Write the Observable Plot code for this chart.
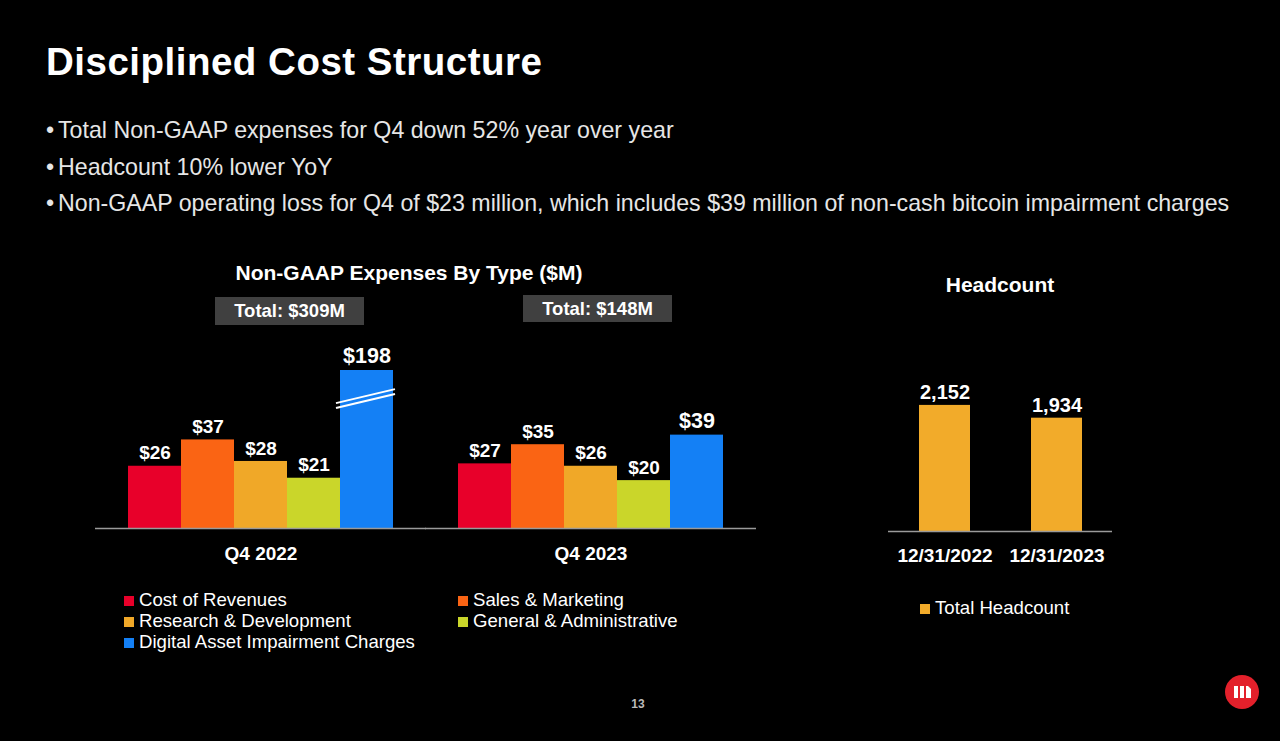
<!DOCTYPE html>
<html>
<head>
<meta charset="utf-8">
<script src="https://cdn.jsdelivr.net/npm/d3@7"></script>
<script src="https://cdn.jsdelivr.net/npm/@observablehq/plot@0.6"></script>
<style>
  html, body { margin: 0; padding: 0; background: #000; }
  body { width: 1280px; height: 741px; position: relative; overflow: hidden;
         font-family: "Liberation Sans", Arial, Helvetica, sans-serif; color: #fff; }
  .abs { position: absolute; }
  .title { left: 46px; top: 40px; font-size: 38.5px; letter-spacing: 0.5px; font-weight: bold; line-height: 44px; white-space: nowrap; }
  .bullet { left: 46px; font-size: 23.2px; line-height: 36px; color: #e6e6e6; white-space: nowrap; }
  .bullet .dot { display: inline-block; width: 12px; }
  .ctitle { font-size: 21px; font-weight: bold; line-height: 24px; text-align: center; white-space: nowrap; }
  .total { background: #404040; font-size: 18.5px; font-weight: bold; text-align: center; color: #fff; }
  .leg { font-size: 18.6px; line-height: 21px; white-space: nowrap; color: #fff; }
  .leg .sw { display: inline-block; width: 10px; height: 10px; margin-right: 5px; vertical-align: 0px; }
  .pnum { left: 618px; width: 40px; top: 697px; text-align: center; font-size: 12px; font-weight: bold; color: #bbb; }
</style>
</head>
<body>
<script>
// ---------- data ----------
const titleText = "Disciplined Cost Structure";
const bullets = [
  "Total Non-GAAP expenses for Q4 down 52% year over year",
  "Headcount 10% lower YoY",
  "Non-GAAP operating loss for Q4 of $23 million, which includes $39 million of non-cash bitcoin impairment charges"
];
const expenseTitle = "Non-GAAP Expenses By Type ($M)";
const quarters = ["Q4 2022", "Q4 2023"];
const quarterTotals = ["Total: $309M", "Total: $148M"];
const types = ["Cost of Revenues", "Sales & Marketing", "Research & Development", "General & Administrative", "Digital Asset Impairment Charges"];
const typeColors = ["#e8002a", "#fa6414", "#f0a828", "#cad62a", "#1480f5"];
const values2022 = [26, 37, 28, 21, 198];
const values2023 = [27, 35, 26, 20, 39];
const axisCap = 66;              // broken axis: bars above this are clipped
const breakLevels = [55.3, 53.3]; // where the break marks sit on the clipped bar

const headTitle = "Headcount";
const headDates = ["12/31/2022", "12/31/2023"];
const headcount = [2152, 1934];
const headSeries = "Total Headcount";
const headColor = "#f2ab2a";
const pageNumber = "13";

// ---------- page text ----------
function el(cls, style, html) {
  const d = document.createElement("div");
  d.className = "abs " + cls;
  Object.assign(d.style, style);
  if (html != null) d.innerHTML = html;
  document.body.appendChild(d);
  return d;
}
el("title", {}, titleText);
bullets.forEach((b, i) => {
  const d = el("bullet", {top: (112 + i * 36.5) + "px"});
  const s = document.createElement("span"); s.className = "dot"; s.textContent = "•";
  d.appendChild(s);
  d.appendChild(document.createTextNode(b));
});
el("ctitle", {left: "0px", width: "818px", top: "261px"}).textContent = expenseTitle;
el("ctitle", {left: "900px", width: "200px", top: "273px"}).textContent = headTitle;

const totalBoxes = [{left: 215, top: 297, h: 28}, {left: 523, top: 295, h: 27}];
quarterTotals.forEach((t, i) => {
  const b = totalBoxes[i];
  const d = el("total", {left: b.left + "px", top: b.top + "px", width: "149px", height: b.h + "px", lineHeight: b.h + "px"});
  d.textContent = t;
});

// ---------- expenses chart ----------
const rows = [];
types.forEach((t, i) => {
  rows.push({quarter: quarters[0], type: t, value: values2022[i]});
  rows.push({quarter: quarters[1], type: t, value: values2023[i]});
});
const clipped = rows.filter(d => d.value > axisCap);
const breakRows = clipped.flatMap(d => breakLevels.map(y => ({quarter: d.quarter, type: d.type, y})));
const bigLabelType = types[4];

const chart1 = Plot.plot({
  width: 660, height: 240,
  marginLeft: 32, marginRight: 31, marginTop: 30, marginBottom: 52,
  style: {background: "transparent", color: "#fff", fontFamily: "'Liberation Sans', Arial, sans-serif", fontSize: "19px", fontWeight: "bold", overflow: "visible"},
  fx: {domain: quarters, paddingInner: 0.191, paddingOuter: 0, axis: "bottom", tickSize: 0, tickPadding: 18, label: null},
  x: {domain: types, padding: 0, axis: null},
  y: {domain: [0, axisCap], clamp: true, axis: null},
  color: {domain: types, range: typeColors},
  marks: [
    Plot.barY(rows, {fx: "quarter", x: "type", y: "value", fill: "type"}),
    Plot.tickY(breakRows, {fx: "quarter", x: "type", y: "y", stroke: "#fff", strokeWidth: 2, insetLeft: -4, insetRight: -2}),
    Plot.text(rows.filter(d => d.type !== bigLabelType), {fx: "quarter", x: "type", y: "value", text: d => "$" + d.value, lineAnchor: "middle", dy: -13, fill: "#fff", fontSize: 19, fontWeight: "bold"}),
    Plot.text(rows.filter(d => d.type === bigLabelType), {fx: "quarter", x: "type", y: "value", text: d => "$" + d.value, lineAnchor: "middle", dy: -14, fill: "#fff", fontSize: 21.5, fontWeight: "bold"}),
    Plot.ruleY([0], {stroke: "#9a9a9a", strokeWidth: 1.5, insetLeft: -32, insetRight: -32})
  ]
});
// tilt the break marks
d3.select(chart1).selectAll('g[aria-label="tick"] line').each(function () {
  const l = d3.select(this);
  l.attr("y1", +l.attr("y1") + 7).attr("y2", +l.attr("y2") - 7);
});
const c1 = el("", {left: "95px", top: "340px"});
c1.appendChild(chart1);

// legend 1
const legPos = [[124, 589], [458, 589], [124, 610], [458, 610], [124, 631]];
types.forEach((t, i) => {
  const d = el("leg", {left: legPos[i][0] + "px", top: legPos[i][1] + "px"});
  d.innerHTML = `<span class="sw" style="background:${typeColors[i]}"></span>`;
  d.appendChild(document.createTextNode(t));
});

// ---------- headcount chart ----------
const head = headDates.map((d, i) => ({date: d, count: headcount[i]}));
const chart2 = Plot.plot({
  width: 224, height: 220,
  marginLeft: 0, marginRight: 0, marginTop: 20, marginBottom: 50,
  style: {background: "transparent", color: "#fff", fontFamily: "'Liberation Sans', Arial, sans-serif", fontSize: "19px", fontWeight: "bold", overflow: "visible"},
  x: {domain: headDates, paddingInner: 0.545, paddingOuter: 0.2725, tickSize: 0, tickPadding: 17, label: null},
  y: {domain: [0, 2560], axis: null},
  marks: [
    Plot.barY(head, {x: "date", y: "count", fill: headColor}),
    Plot.text(head, {x: "date", y: "count", text: d => d3.format(",")(d.count), lineAnchor: "middle", dy: -13, fill: "#fff", fontSize: 20, fontWeight: "bold"}),
    Plot.ruleY([0], {stroke: "#9a9a9a", strokeWidth: 1.5})
  ]
});
const c2 = el("", {left: "888px", top: "361px"});
c2.appendChild(chart2);

const hl = el("leg", {left: "920px", top: "597px"});
hl.innerHTML = `<span class="sw" style="background:${headColor}"></span>`;
hl.appendChild(document.createTextNode(headSeries));

// ---------- footer ----------
el("pnum", {}, pageNumber);
el("", {left: "1225px", top: "675px"},
  `<svg width="34" height="34" viewBox="0 0 34 34">
     <circle cx="17" cy="17" r="17" fill="#e3202b"/>
     <rect x="9" y="11" width="4" height="12" fill="#fff"/>
     <rect x="15" y="11" width="4" height="12" fill="#fff"/>
     <path d="M21 11 H23 L26 14 V23 H21 Z" fill="#fff"/>
   </svg>`);
</script>
</body>
</html>
